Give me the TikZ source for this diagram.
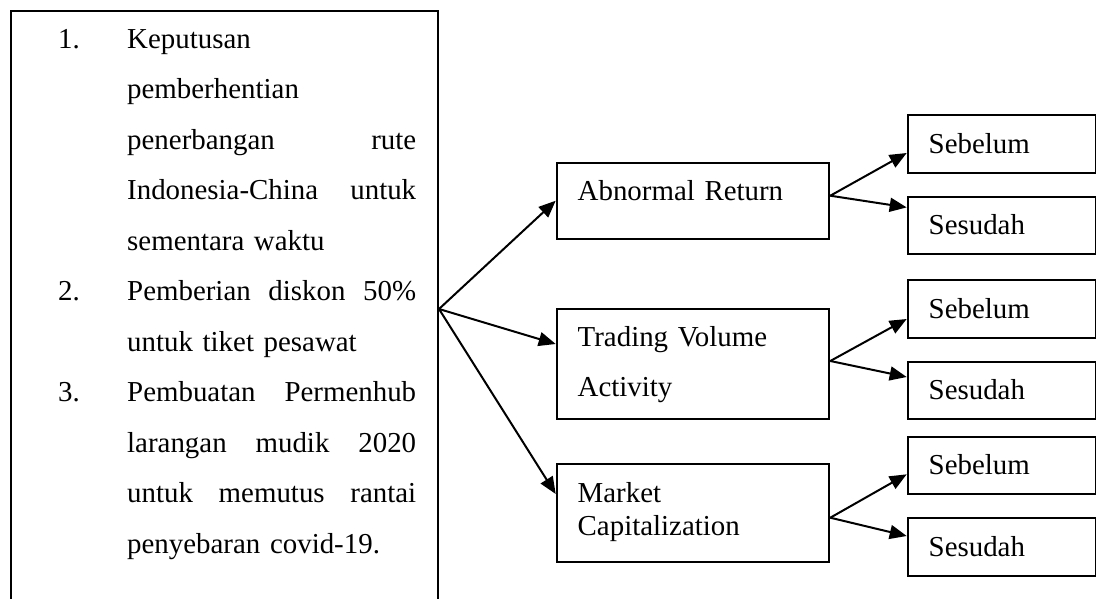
\documentclass[tikz,border=0pt]{standalone}
\usepackage{fontspec}
\setmainfont{Liberation Serif}
\usetikzlibrary{arrows.meta}

\begin{document}
\begin{tikzpicture}[x=1pt, y=-1pt,
  every node/.style={font=\fontsize{28.9}{50.5}\selectfont},
  kotak/.style={draw, line width=2pt, anchor=north west, inner xsep=21pt, inner ysep=0pt, text height=37.7pt, align=left},
  panah/.style={-{Triangle[length=17pt, width=14pt]}, line width=2pt}]
\useasboundingbox (0,0) rectangle (1096,598);
\clip (0,0) rectangle (1096,598);

% kotak kebijakan (terpotong di bawah)
\node[draw, line width=2pt, anchor=north west, minimum width=427pt, minimum height=596pt, inner sep=0pt] (K) at (10,10) {};
\node[anchor=base west, inner sep=0pt] (N1) at (58,48) {1.};
\node[anchor=base west, inner sep=0pt] (N2) at (58,300.5) {2.};
\node[anchor=base west, inner sep=0pt] (N3) at (58,401.5) {3.};
\node[anchor=base west, inner sep=0pt, text width=289pt, align=left] (ISI) at (127,48) {Keputusan\\
pemberhentian\\
\makebox[289pt][s]{penerbangan\hfill rute}\\
\makebox[289pt][s]{Indonesia-China\hfill untuk}\\
sementara waktu\\
\makebox[289pt][s]{Pemberian\hfill diskon\hfill 50\%}\\
untuk tiket pesawat\\
\makebox[289pt][s]{Pembuatan\hfill Permenhub}\\
\makebox[289pt][s]{larangan\hfill mudik\hfill 2020}\\
\makebox[289pt][s]{untuk\hfill memutus\hfill rantai}\\
penyebaran covid-19.};

% variabel
\node[kotak, text width=230.6pt, text depth=38.3pt] (AR) at (555.7,161.7) {Abnormal Return};
\node[kotak, text width=230.6pt, text depth=72.9pt, font=\fontsize{28.9}{50}\selectfont] (TVA) at (555.7,307.7) {Trading Volume\\ Activity};
\node[kotak, text width=230.6pt, text depth=59.7pt, font=\fontsize{28.9}{33}\selectfont] (MC) at (555.7,463.3) {Market\\ Capitalization};

% periode
\node[kotak, text width=146.3pt, text depth=19.7pt] (SB1) at (906.7,114.3) {Sebelum};
\node[kotak, text width=146.3pt, text depth=19.7pt] (SD1) at (906.7,195.7) {Sesudah};
\node[kotak, text width=146.3pt, text depth=19.7pt] (SB2) at (906.7,279.3) {Sebelum};
\node[kotak, text width=146.3pt, text depth=19.7pt] (SD2) at (906.7,360.7) {Sesudah};
\node[kotak, text width=146.3pt, text depth=19.7pt] (SB3) at (906.7,436) {Sebelum};
\node[kotak, text width=146.3pt, text depth=19.7pt] (SD3) at (906.7,517.3) {Sesudah};

\draw[panah] (K.east) -- (AR.west);
\draw[panah] (K.east) -- ([yshift=20pt]TVA.west);
\draw[panah] (K.east) -- ([yshift=19pt]MC.west);

\draw[panah] ([yshift=5pt]AR.east) -- ([yshift=-9pt]SB1.west);
\draw[panah] ([yshift=5pt]AR.east) -- ([yshift=18pt]SD1.west);
\draw[panah] ([yshift=3pt]TVA.east) -- ([yshift=-10pt]SB2.west);
\draw[panah] ([yshift=3pt]TVA.east) -- ([yshift=13.4pt]SD2.west);
\draw[panah] ([yshift=-4.7pt]MC.east) -- ([yshift=-8.6pt]SB3.west);
\draw[panah] ([yshift=-4.7pt]MC.east) -- ([yshift=11pt]SD3.west);
\end{tikzpicture}
\end{document}
